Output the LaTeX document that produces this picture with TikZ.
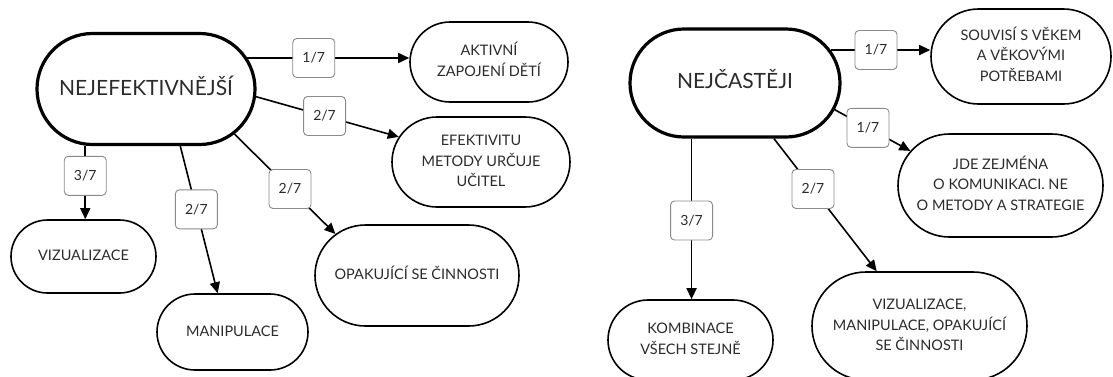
\documentclass[tikz,border=0pt]{standalone}
\usepackage{fontspec}
\setmainfont{Lato}
\usepackage{tikz}
\usetikzlibrary{shapes.misc, arrows.meta, positioning}
\definecolor{inkgray}{HTML}{2B2B2B}
\definecolor{framegray}{HTML}{8A8A8A}

% text set in a box of no width, so that the stadium keeps its own size
\newcommand{\maptext}[1]{\makebox[0pt]{\begin{tabular}{@{}c@{}}#1\end{tabular}}}

\tikzset{
  concept/.style={rounded rectangle, draw, line width=1.6pt,
    text=inkgray, inner xsep=0pt, inner ysep=2pt,
    font=\fontsize{14.5}{20.5}\selectfont},
  topic/.style={concept, line width=3.2pt, font=\fontsize{21}{24}\selectfont},
  share/.style={rectangle, rounded corners=4pt, draw=framegray, line width=0.9pt,
    fill=white, minimum width=42pt, minimum height=39pt, inner sep=1pt,
    text=inkgray, font=\fontsize{14}{16}\selectfont},
  link/.style={line width=1.6pt, -{Triangle[length=11pt,width=10pt]}},
}

\begin{document}
\begin{tikzpicture}[x=1pt, y=-1pt]
    \useasboundingbox (0,0) rectangle (1113,376);

    % Nejefektivnejsi
    \node[topic, minimum width=218pt, minimum height=111pt] (best) at (146,89) {\maptext{NEJEFEKTIVNĚJŠÍ}};
    \node[concept, minimum width=158pt, minimum height=80pt] (aktiv) at (489,62) {\maptext{AKTIVNÍ\\ZAPOJENÍ DĚTÍ}};
    \node[concept, minimum width=178pt, minimum height=90pt] (ucitel) at (481,162) {\maptext{EFEKTIVITU\\METODY URČUJE\\UČITEL}};
    \node[concept, minimum width=145pt, minimum height=73pt] (vizual) at (83.5,256.5) {\maptext{VIZUALIZACE}};
    \node[concept, minimum width=151pt, minimum height=76pt] (manip) at (232.5,332) {\maptext{MANIPULACE}};
    \node[concept, minimum width=204pt, minimum height=101pt] (opak) at (417,275.5) {\maptext{OPAKUJÍCÍ SE ČINNOSTI}};

    \draw[link] (best.17) -- node[share, pos=0.41] (b1) {1/7} (best.17 -| aktiv.west);
    \draw[link] (best.356) -- node[share, pos=0.48] (b2) {2/7} (ucitel.163);
    \draw[link] (best.223) -- node[share, pos=0.41] (b3) {3/7} (best.223 |- vizual.north);
    \draw[link] (best.301) -- node[share, pos=0.43] (b4) {2/7} (manip.111);
    \draw[link] (best.333) -- node[share, pos=0.55] (b5) {2/7} (opak.153);

    % Nejcasteji
    \node[topic, minimum width=210pt, minimum height=108pt] (often) at (735,83) {\maptext{NEJČASTĚJI}};
    \node[concept, minimum width=180pt, minimum height=95pt] (vek) at (1021,56.5) {\maptext{SOUVISÍ S VĚKEM\\A VĚKOVÝMI\\POTŘEBAMI}};
    \node[concept, minimum width=205pt, minimum height=103pt] (komun) at (1000.5,185.5) {\maptext{JDE ZEJMÉNA\\O KOMUNIKACI. NE\\O METODY A STRATEGIE}};
    \node[concept, minimum width=165pt, minimum height=80pt] (komb) at (690.5,340) {\maptext{KOMBINACE\\VŠECH STEJNĚ}};
    \node[concept, minimum width=215pt, minimum height=108pt] (vse) at (919.5,326) {\maptext{VIZUALIZACE,\\MANIPULACE, OPAKUJÍCÍ\\SE ČINNOSTI}};

    \draw[link] (often.19) -- node[share, pos=0.455] (c1) {1/7} (often.19 -| vek.west);
    \draw[link] (often.345) -- node[share, pos=0.44] (c2) {1/7} (komun.159);
    \draw[link] (often.232) -- node[share, pos=0.51] (c3) {3/7} (often.232 |- komb.north);
    \draw[link] (often.305) -- node[share, pos=0.38] (c4) {2/7} (vse.128);
\end{tikzpicture}
\end{document}
